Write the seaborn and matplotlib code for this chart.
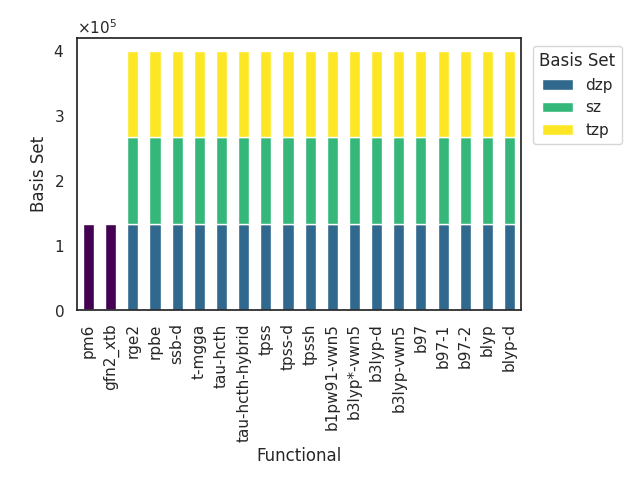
import matplotlib
matplotlib.use("Agg")
import matplotlib.pyplot as plt
import seaborn as sns
import pandas as pd
import numpy as np

functionals = ["pm6", "gfn2_xtb", "rge2", "rpbe", "ssb-d", "t-mgga", "tau-hcth",
               "tau-hcth-hybrid", "tpss", "tpss-d", "tpssh", "b1pw91-vwn5",
               "b3lyp*-vwn5", "b3lyp-d", "b3lyp-vwn5", "b97", "b97-1", "b97-2",
               "blyp", "blyp-d"]
semi = [133500, 133500] + [0] * 18
dzp = [0, 0] + [133500] * 18
sz = [0, 0] + [133500] * 18
tzp = [0, 0] + [133500] * 18

sns.set_theme(style="white")

df = pd.DataFrame({"_semi": semi, "dzp": dzp, "sz": sz, "tzp": tzp}, index=functionals)
df.index.name = "Functional"

fig, ax = plt.subplots(figsize=(6.4, 4.8), dpi=100)
df.plot(kind="bar", stacked=True, colormap="viridis", ax=ax, legend=False)
ax.ticklabel_format(axis="y", style="sci", scilimits=(0, 0), useMathText=True)
ax.set_xlabel("Functional")
ax.set_ylabel("Basis Set")
handles, labels = ax.get_legend_handles_labels()
keep = [(h, l) for h, l in zip(handles, labels) if not l.startswith("_")]
ax.legend([h for h, _ in keep], [l for _, l in keep], title="Basis Set",
          loc="upper left", bbox_to_anchor=(1.0287, 0.9695), borderaxespad=0)
fig.subplots_adjust(left=0.121, right=0.8135, top=0.9215, bottom=0.354)
fig.savefig("out.png")
